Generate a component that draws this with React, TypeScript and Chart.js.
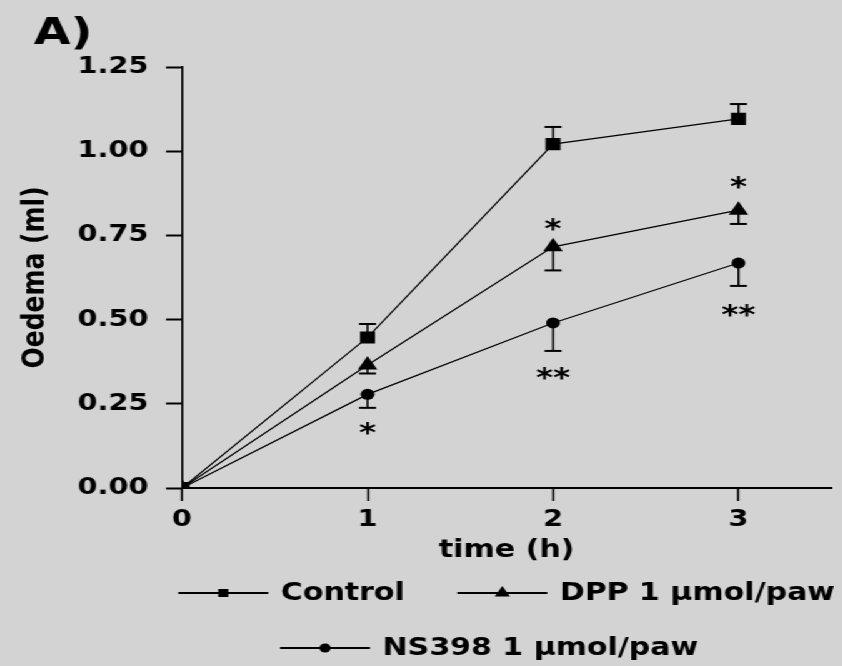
import React, { useEffect, useRef } from 'react';
import { Chart, registerables } from 'chart.js';

Chart.register(...registerables);

// ---- data ----
const timeHours = [0, 1, 2, 3];
const xTickValues = [0, 1, 2, 3];
const yTickValues = [0, 0.25, 0.5, 0.75, 1.0, 1.25];

const controlMean = [0, 0.447, 1.021, 1.096];
const controlSem = [0, 0.04, 0.051, 0.044];
const dppMean = [0, 0.365, 0.716, 0.825];
const dppSem = [0, 0.025, 0.07, 0.041];
const nsMean = [0, 0.278, 0.49, 0.668];
const nsSem = [0, 0.04, 0.083, 0.068];

const seriesLabels = ['Control', 'DPP 1 µmol/paw', 'NS398 1 µmol/paw'];
const errorDirections = [1, -1, -1];

const sigTime = [1, 2, 2, 3, 3];
const sigValue = [0.178, 0.784, 0.341, 0.909, 0.528];
const sigMark = ['*', '*', '**', '*', '**'];

const legendRows = [[0, 1], [2]];

// ---- style ----
const STRETCH = 1.25;
const CANVAS_W = 674;
const CANVAS_H = 666;
const BG = '#d3d3d3';
const FONT = 'DejaVu Sans';

const means = [controlMean, dppMean, nsMean];
const sems = [controlSem, dppSem, nsSem];
const pointStyles = ['rect', 'triangle', 'circle'];
const pointRadii = [8.5, 9, 5.5];
const legendRadii = [5.7, 7, 4.5];
const legendRowShift = [0, -14];

function drawMarker(ctx: CanvasRenderingContext2D, style: string, x: number, y: number, r: number) {
  ctx.beginPath();
  if (style === 'rect') {
    const h = r * Math.SQRT1_2;
    ctx.rect(x - h, y - h, 2 * h, 2 * h);
  } else if (style === 'triangle') {
    ctx.moveTo(x, y - r);
    ctx.lineTo(x + r * 0.866, y + r / 2);
    ctx.lineTo(x - r * 0.866, y + r / 2);
    ctx.closePath();
  } else {
    ctx.arc(x, y, r, 0, Math.PI * 2);
  }
  ctx.fill();
}

const errorBarPlugin = {
  id: 'errorBars',
  beforeDatasetsDraw(chart: any) {
    const ctx = chart.ctx;
    const xs = chart.scales.x;
    const ys = chart.scales.y;
    ctx.save();
    ctx.strokeStyle = '#000';
    means.forEach((m, di) => {
      m.forEach((v, i) => {
        const e = sems[di][i];
        if (!e) return;
        const px = xs.getPixelForValue(timeHours[i]);
        const py0 = ys.getPixelForValue(v);
        const py1 = ys.getPixelForValue(v + errorDirections[di] * e);
        ctx.lineWidth = 1.6;
        ctx.beginPath();
        ctx.moveTo(px, py0);
        ctx.lineTo(px, py1);
        ctx.stroke();
        ctx.lineWidth = 2;
        ctx.beginPath();
        ctx.moveTo(px - 6.8, py1);
        ctx.lineTo(px + 6.8, py1);
        ctx.stroke();
      });
    });
    ctx.restore();
  },
};

const annotationPlugin = {
  id: 'annotations',
  afterDatasetsDraw(chart: any) {
    const ctx = chart.ctx;
    const xs = chart.scales.x;
    const ys = chart.scales.y;
    ctx.save();
    ctx.fillStyle = '#000';
    const f = 26;
    ctx.font = `bold ${f}px "${FONT}"`;
    ctx.textAlign = 'center';
    ctx.textBaseline = 'alphabetic';
    sigTime.forEach((t, i) => {
      const px = xs.getPixelForValue(t);
      const py = ys.getPixelForValue(sigValue[i]);
      ctx.fillText(sigMark[i], px, py + f * 0.55);
    });
    ctx.font = `bold 38px "${FONT}"`;
    ctx.textAlign = 'left';
    ctx.fillText('A)', 27, 44);
    ctx.restore();
  },
};

const customLegendPlugin = {
  id: 'customLegend',
  afterDraw(chart: any) {
    const ctx = chart.ctx;
    const area = chart.chartArea;
    const cx = (area.left + area.right) / 2;
    const sampleW = 72;
    const textGap = 10;
    const itemGap = 42;
    const rowYs = [area.bottom + 105, area.bottom + 160];
    ctx.save();
    ctx.font = `bold 24px "${FONT}"`;
    ctx.textBaseline = 'middle';
    ctx.textAlign = 'left';
    ctx.fillStyle = '#000';
    ctx.strokeStyle = '#000';
    legendRows.forEach((row, ri) => {
      const widths = row.map((di) => sampleW + textGap + ctx.measureText(seriesLabels[di]).width);
      const total = widths.reduce((a, b) => a + b, 0) + itemGap * (row.length - 1);
      let x = cx + legendRowShift[ri] - total / 2;
      const y = rowYs[ri];
      row.forEach((di, k) => {
        ctx.lineWidth = 2;
        ctx.beginPath();
        ctx.moveTo(x, y);
        ctx.lineTo(x + sampleW, y);
        ctx.stroke();
        drawMarker(ctx, pointStyles[di], x + sampleW / 2, y, legendRadii[di]);
        ctx.fillText(seriesLabels[di], x + sampleW + textGap, y + 1);
        x += widths[k] + itemGap;
      });
    });
    ctx.restore();
  },
};

export default function App() {
  const canvasRef = useRef<HTMLCanvasElement | null>(null);

  useEffect(() => {
    document.body.style.margin = '0';
    document.body.style.background = BG;
    const canvas = canvasRef.current;
    if (!canvas) return;

    const tickFont = { family: FONT, weight: 'bold' as const, size: 23 };

    const chart = new Chart(canvas, {
      type: 'line',
      data: {
        datasets: means.map((m, di) => ({
          label: seriesLabels[di],
          data: timeHours.map((t, i) => ({ x: t, y: m[i] })),
          borderColor: '#000',
          borderWidth: 1.2,
          backgroundColor: '#000',
          pointBackgroundColor: '#000',
          pointBorderColor: '#000',
          pointBorderWidth: 0,
          pointStyle: pointStyles[di] as any,
          pointRadius: pointRadii[di],
          pointHoverRadius: pointRadii[di],
          tension: 0,
          fill: false,
        })),
      },
      options: {
        animation: false,
        responsive: true,
        maintainAspectRatio: false,
        events: [],
        layout: { padding: { left: 0, right: 5.2, top: 67, bottom: 98 } },
        plugins: {
          legend: { display: false },
          tooltip: { enabled: false },
          title: { display: false },
        },
        scales: {
          x: {
            type: 'linear',
            min: 0,
            max: 3.5,
            afterBuildTicks: (s: any) => {
              s.ticks = xTickValues.map((v) => ({ value: v }));
            },
            afterFit: (s: any) => {
              s.height = 80;
            },
            grid: {
              drawOnChartArea: false,
              drawTicks: true,
              tickLength: 13,
              tickWidth: 1.6,
              tickColor: '#000',
              color: '#000',
            },
            border: { display: true, color: '#000', width: 2 },
            ticks: {
              font: tickFont,
              color: '#000',
              padding: 5,
              maxRotation: 0,
              callback: (v: any) => String(v),
            },
            title: {
              display: true,
              text: 'time (h)',
              color: '#000',
              font: { family: FONT, weight: 'bold', size: 24 },
              padding: { top: 0, bottom: 3 },
            },
          },
          y: {
            type: 'linear',
            min: 0,
            max: 1.25,
            afterBuildTicks: (s: any) => {
              s.ticks = yTickValues.map((v) => ({ value: v }));
            },
            afterFit: (s: any) => {
              s.width = 145.6;
            },
            grid: {
              drawOnChartArea: false,
              drawTicks: true,
              tickLength: 12.8,
              tickWidth: 2,
              tickColor: '#000',
              color: '#000',
            },
            border: { display: true, color: '#000', width: 1.6 },
            ticks: {
              font: tickFont,
              color: '#000',
              padding: 14,
              callback: (v: any) => Number(v).toFixed(2),
            },
            title: {
              display: true,
              text: 'Oedema (ml)',
              color: '#000',
              font: { family: FONT, weight: 'bold', size: 25 },
              padding: { top: 13, bottom: 0 },
            },
          },
        },
      },
      plugins: [errorBarPlugin, annotationPlugin, customLegendPlugin],
    });

    return () => chart.destroy();
  }, []);

  return (
    <div
      style={{
        position: 'fixed',
        left: 0,
        top: 0,
        width: CANVAS_W,
        height: CANVAS_H,
        transform: `scaleX(${STRETCH})`,
        transformOrigin: '0 0',
        background: BG,
      }}
    >
      <canvas ref={canvasRef} />
    </div>
  );
}
